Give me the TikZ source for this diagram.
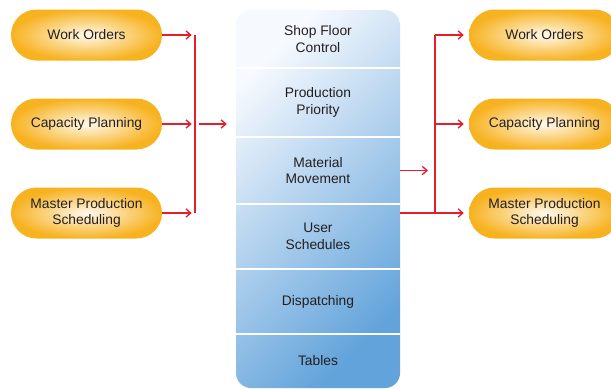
\documentclass[tikz,border=0pt]{standalone}
\usepackage{fontspec}
\setmainfont{Liberation Sans}
\usetikzlibrary{arrows.meta,shapes.misc}
\definecolor{pillorange}{HTML}{F7B220}
\definecolor{pillcream}{HTML}{FFF9EC}
\definecolor{colpale}{HTML}{F6F9FE}
\definecolor{colblue}{HTML}{62A3DB}
\definecolor{linkred}{HTML}{E41E2B}
\definecolor{textgray}{HTML}{231F20}
\begin{document}
\begin{tikzpicture}[x=0.03cm,y=-0.03cm,
  pill/.style={rounded rectangle,minimum width=4.53cm,minimum height=1.53cm,inner sep=0,
    inner color=pillcream,outer color=pillorange,align=center,text=textgray,
    font=\fontsize{11.8}{13.6}\selectfont},
  rowbox/.style={minimum width=4.92cm,inner sep=0,align=center,text=textgray,
    font=\fontsize{11.8}{14.2}\selectfont},
  linkline/.style={linkred,line width=0.04cm},
  link/.style={linkline,-{Straight Barb[length=4pt,width=7pt]}}]
  \useasboundingbox (0,0) rectangle (611,389);
  \clip (0,0) rectangle (611,389);

  % column
  \shade[rounded corners=0.45cm,top color=colpale,bottom color=colblue,shading angle=45]
    (236,10) rectangle (400,388);
  \foreach \y in {68,137,204,269,334}{%
    \draw[white,line width=0.07cm] (236,\y) -- (400,\y);
  }
  \foreach \ya/\yb/\txt [count=\i] in {10/68/{Shop Floor\\Control},68/137/{Production\\Priority},
      137/204/{Material\\Movement},204/269/{User\\Schedules},269/334/{Dispatching},334/388/{Tables}}{%
    \node[rowbox] (row-\i) at (318,{(\ya+\yb)/2}) {\txt};
  }

  % pills
  \foreach \y/\txt [count=\i] in {35/{Work Orders},124/{Capacity Planning},213/{Master Production\\Scheduling}}{%
    \node[pill] (L-\i) at (86.5,\y) {\txt};
    \node[pill] (R-\i) at (544.5,\y) {\txt};
  }

  \coordinate (JL) at (195,124);
  \coordinate (JR) at (435,124);

  % left side
  \foreach \i in {1,2,3}{%
    \draw[link,shorten >=0.1cm] (L-\i.east) -- (L-\i.east -| JL);
  }
  \draw[linkline] (L-1.east -| JL) -- (L-3.east -| JL);
  \draw[link,shorten <=0.12cm,shorten >=0.27cm] (JL) -- (JL -| row-2.west);

  % right side
  \draw[link,shorten >=0.21cm] (row-3.east) -- (row-3.east -| JR);
  \draw[linkline] (row-4.east |- R-3.west) -- (R-3.west -| JR) -- (R-1.west -| JR);
  \foreach \i in {1,2,3}{%
    \draw[link,shorten >=0.15cm] (R-\i.west -| JR) -- (R-\i.west);
  }
\end{tikzpicture}
\end{document}
